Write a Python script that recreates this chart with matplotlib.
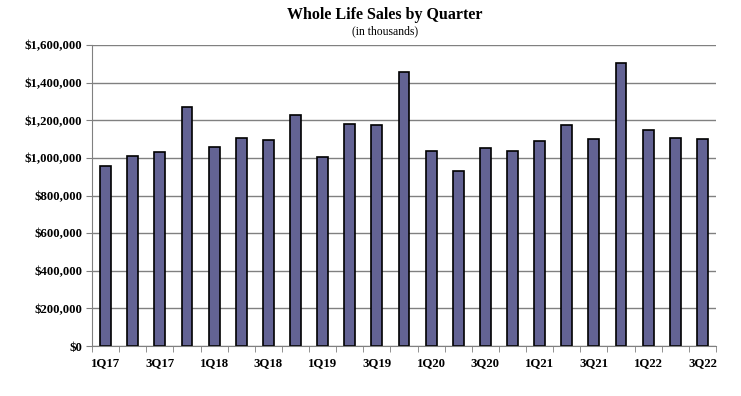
import numpy as np
import matplotlib.pyplot as plt
from matplotlib.ticker import FuncFormatter, MultipleLocator

# ventas por trimestre (miles de dolares)
trimestres = ['1Q17', '2Q17', '3Q17', '4Q17',
			  '1Q18', '2Q18', '3Q18', '4Q18',
			  '1Q19', '2Q19', '3Q19', '4Q19',
			  '1Q20', '2Q20', '3Q20', '4Q20',
			  '1Q21', '2Q21', '3Q21', '4Q21',
			  '1Q22', '2Q22', '3Q22']
ventas = [957000, 1010000, 1031000, 1270000,
		  1058000, 1106000, 1095000, 1228000,
		  1005000, 1180000, 1175000, 1457000,
		  1037000, 930000, 1053000, 1037000,
		  1090000, 1175000, 1100000, 1504000,
		  1148000, 1106000, 1100000]

plt.rcParams['font.family'] = ['Liberation Serif', 'DejaVu Serif']

fig = plt.figure(figsize = (7.41, 3.96), dpi = 100)
ax = fig.add_axes([92 / 741, 1 - 346 / 396, (716 - 92) / 741, (346 - 45) / 396])

x = np.arange(len(trimestres))
ax.bar(x, ventas, width = 0.4, color = '#636394', edgecolor = 'black', linewidth = 1.2, zorder = 3)

ax.set_xlim(-0.5, len(trimestres) - 0.5)
ax.set_ylim(0, 1600000)
ax.yaxis.set_major_locator(MultipleLocator(200000))
ax.yaxis.set_major_formatter(FuncFormatter(lambda v, p: '${:,.0f}'.format(v)))
ax.grid(axis = 'y', color = '#808080', linewidth = 1.0, zorder = 0)

# etiquetas cada dos trimestres, marcas entre categorias
ax.set_xticks(x[::2])
ax.set_xticklabels(trimestres[::2])
ax.set_xticks(np.arange(-0.5, len(trimestres)), minor = True)
ax.tick_params(axis = 'x', which = 'major', length = 0, pad = 8)
ax.tick_params(axis = 'x', which = 'minor', length = 4, color = '#808080', direction = 'out')
ax.tick_params(axis = 'y', length = 4, color = '#808080', pad = 3)

for lbl in ax.get_xticklabels() + ax.get_yticklabels():
	lbl.set_fontweight('bold')
	lbl.set_fontsize(9.2)

for s in ['top', 'right']:
	ax.spines[s].set_visible(False)
for s in ['left', 'bottom']:
	ax.spines[s].set_color('#808080')
	ax.spines[s].set_zorder(4)

fig.text(385 / 741, 1 - 15 / 396, 'Whole Life Sales by Quarter', ha = 'center', va = 'center',
		 fontsize = 11.5, fontweight = 'bold')
fig.text(385 / 741, 1 - 31 / 396, '(in thousands)', ha = 'center', va = 'center', fontsize = 8.4)

fig.savefig('out.png', dpi = 100)
